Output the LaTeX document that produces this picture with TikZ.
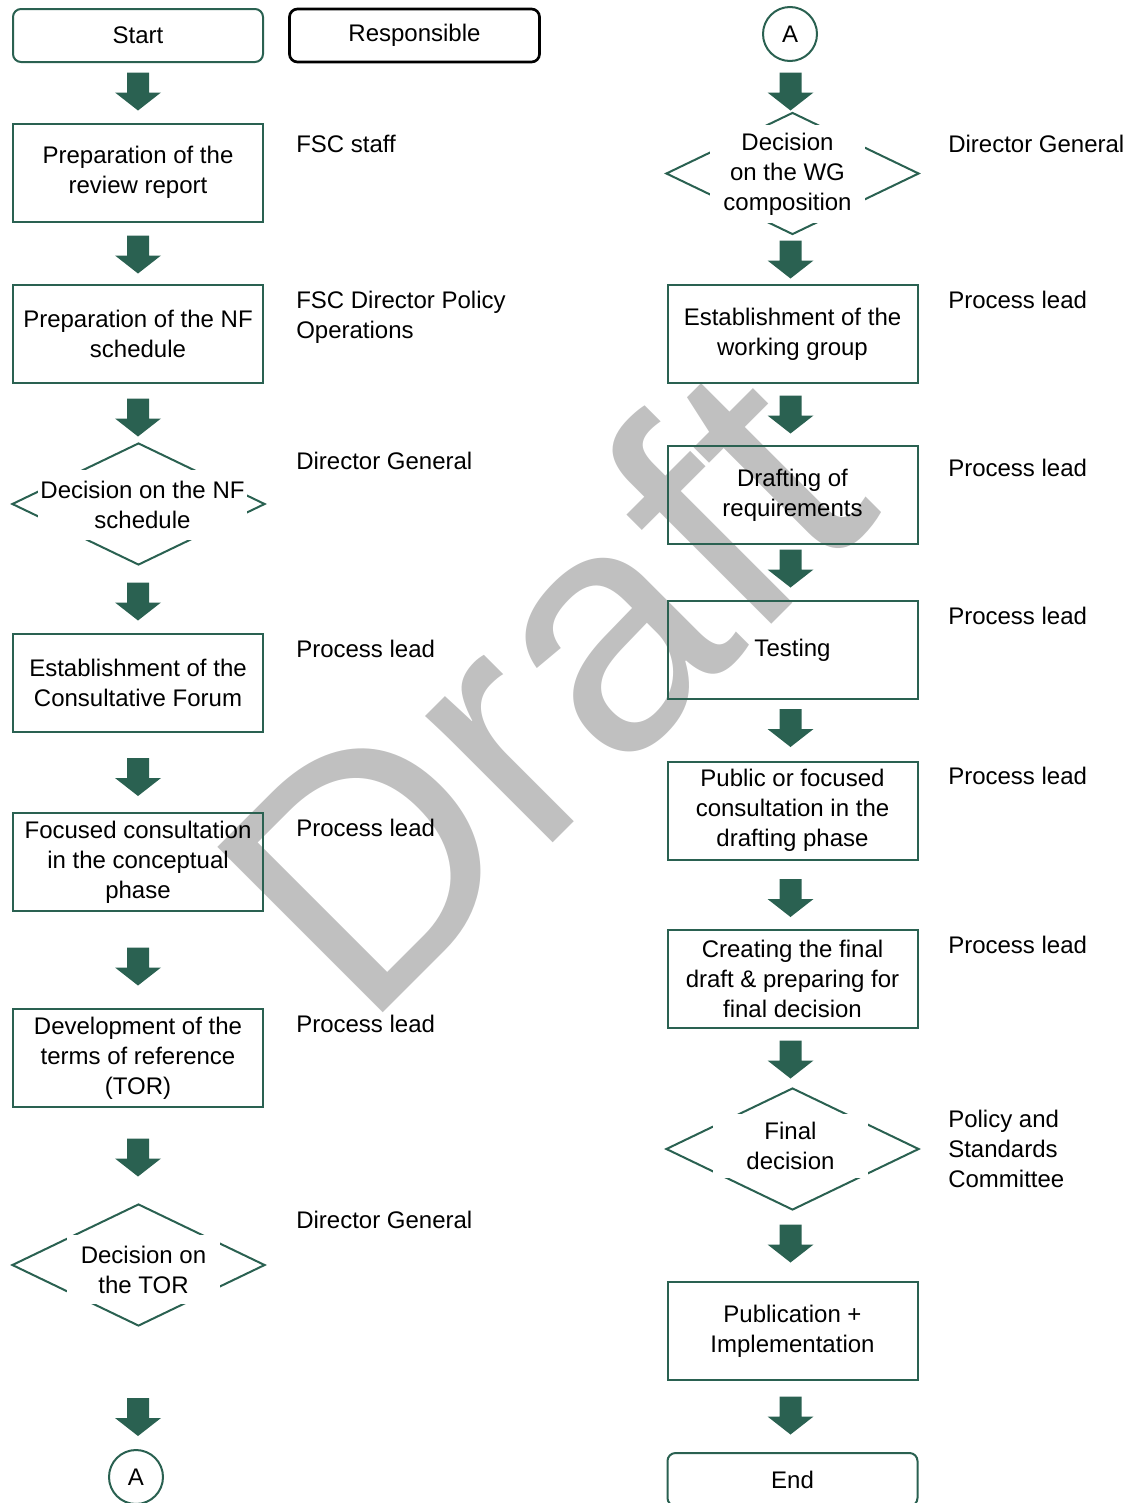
\documentclass[tikz,border=0pt]{standalone}
\usepackage{fontspec}
\setmainfont{Liberation Sans}
\usetikzlibrary{shapes.geometric}
\definecolor{fsgreen}{HTML}{2A6151}
\definecolor{wmgrey}{HTML}{C0C0C0}
\tikzset{
  base/.style={font=\fontsize{18pt}{22.5pt}\selectfont, align=center, inner sep=0pt},
  proc/.style={base, rectangle, draw=fsgreen, line width=1.5pt, minimum width=187.5pt, minimum height=73.5pt},
  term/.style={base, rectangle, rounded corners=6pt, draw=fsgreen, line width=1.5pt, minimum width=187.5pt, minimum height=39.75pt},
  dec/.style={diamond, draw=fsgreen, line width=1.5pt, inner sep=0pt, minimum width=189.75pt, minimum height=91.5pt},
  dectext/.style={base, fill=white},
  conn/.style={base, circle, draw=fsgreen, line width=1.5pt, minimum size=40.5pt},
  lbl/.style={font=\fontsize{18pt}{22.5pt}\selectfont, align=left, inner sep=0pt, anchor=base west},
  barrow/.pic={\fill[fsgreen] (-11,-19) -- (11,-19) -- (11,1) -- (23,1) -- (0,19) -- (-23,1) -- (-11,1) -- cycle;}
}
\begin{document}
\begin{tikzpicture}[x=0.75pt,y=-0.75pt]
\useasboundingbox (0,0) rectangle (1131,1503);
% watermark
\node[font=\fontsize{255pt}{255pt}\selectfont, text=wmgrey, rotate=45, anchor=base west, inner sep=0pt] (wm) at (363,1033) {Draft};

% left column
\node[term] (start) at (138,35.5) {Start};
\node[term, draw=black, line width=2pt] (resp) at (414.5,35.5) {Responsible};
\node[proc] (p1) at (138,172.5) {Preparation of the\\review report};
\node[proc] (p2) at (138,334) {Preparation of the NF\\schedule};
\node[dec] (d1) at (138.5,504) {};
\node[dectext, minimum width=156.75pt, minimum height=52.5pt] (t1) at (142.5,505) {Decision on the NF\\schedule};
\node[proc] (p3) at (138,683) {Establishment of the\\Consultative Forum};
\node[proc] (p4) at (138,862) {Focused consultation\\in the conceptual\\phase};
\node[proc] (p5) at (138,1058) {Development of the\\terms of reference\\(TOR)};
\node[dec] (d2) at (138.5,1265) {};
\node[dectext, minimum width=114.75pt, minimum height=51.75pt] (t2) at (143.5,1269.5) {Decision on\\the TOR};
\node[conn] (a1) at (136,1477) {A};

\pic at (138,91.5) {barrow};
\pic at (138,254.5) {barrow};
\pic at (138,417.5) {barrow};
\pic at (138,601.5) {barrow};
\pic at (138,777) {barrow};
\pic at (138,966.5) {barrow};
\pic at (138,1157.5) {barrow};
\pic at (138,1417) {barrow};

% right column
\node[conn] (a2) at (790,34) {A};
\node[dec] (d3) at (792.5,173.5) {};
\node[dectext, minimum width=116.25pt, minimum height=73.5pt] (t3) at (787.5,174) {Decision\\on the WG\\composition};
\node[proc] (q1) at (792.5,334) {Establishment of the\\working group};
\node[proc] (q2) at (792.5,495) {Drafting of\\requirements};
\node[proc] (q3) at (792.5,650) {Testing};
\node[proc] (q4) at (792.5,810.5) {Public or focused\\consultation in the\\drafting phase};
\node[proc] (q5) at (792.5,978.5) {Creating the final\\draft \& preparing for\\final decision};
\node[dec] (d4) at (792.5,1149) {};
\node[dectext, minimum width=116.25pt, minimum height=48pt] (t4) at (790.5,1146) {Final\\decision};
\node[proc] (q6) at (792.5,1331) {Publication +\\Implementation};
\node[term] (end) at (792.5,1479.5) {End};

\pic at (790.5,91.5) {barrow};
\pic at (790.5,259.5) {barrow};
\pic at (790.5,414.5) {barrow};
\pic at (790.5,568.5) {barrow};
\pic at (790.5,728) {barrow};
\pic at (790.5,898) {barrow};
\pic at (790.5,1059.5) {barrow};
\pic at (790.5,1243.5) {barrow};
\pic at (790.5,1415.5) {barrow};

% responsible labels
\node[lbl] (r1) at (296,152) {FSC staff};
\node[lbl] (r2) at (296,338) {FSC Director Policy\\Operations};
\node[lbl] (r3) at (296,469) {Director General};
\node[lbl] (r4) at (296,657) {Process lead};
\node[lbl] (r5) at (296,836) {Process lead};
\node[lbl] (r6) at (296,1032) {Process lead};
\node[lbl] (r7) at (296,1228) {Director General};
\node[lbl] (s1) at (948,152) {Director General};
\node[lbl] (s2) at (948,308) {Process lead};
\node[lbl] (s3) at (948,476) {Process lead};
\node[lbl] (s4) at (948,624) {Process lead};
\node[lbl] (s5) at (948,784) {Process lead};
\node[lbl] (s6) at (948,953) {Process lead};
\node[lbl] (s7) at (948,1187) {Policy and\\Standards\\Committee};
\end{tikzpicture}
\end{document}
